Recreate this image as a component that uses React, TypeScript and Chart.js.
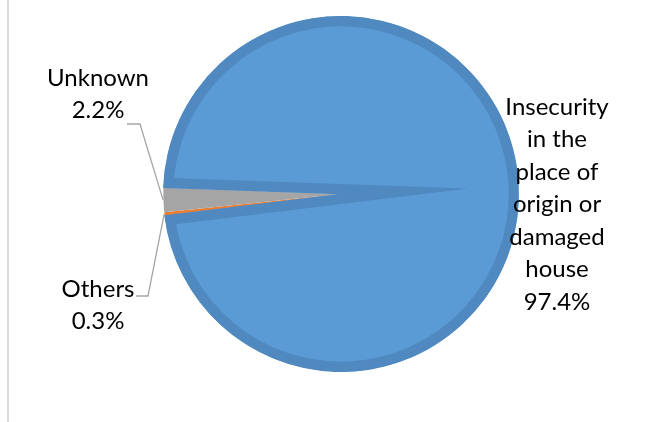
import React, { useEffect, useRef } from "react";
import { Chart, registerables } from "chart.js";

Chart.register(...registerables);

// Reasons for displacement
const categories = ["Others", "Unknown", "Insecurity in the place of origin or damaged house"];
const categoryLines = [["Others"], ["Unknown"], ["Insecurity", "in the", "place of", "origin or", "damaged", "house"]];
const shares = [0.3, 2.2, 97.4];
const fillColors = ["#ed7d31", "#a5a5a5", "#5b9bd5"];
const edgeColors = ["#ffffff", "#ffffff", "#4f89c0"];
const edgeWidths = [0, 0, 10];

// Label blocks: text centre, first line y, and leader elbow (null = no leader)
const labelBlocks = [
  { cx: 98, y0: 289, elbow: { x1: 136, x2: 148, y: 296 } },
  { cx: 98, y0: 78, elbow: { x1: 127, x2: 140, y: 124 } },
  { cx: 557, y0: 107, elbow: null },
];

const FONT = "24px Lato, 'Open Sans', sans-serif";
const LINE_H = 32.5;

const labelPlugin = {
  id: "sliceLabels",
  beforeDatasetsDraw(chart: any) {
    chart.ctx.miterLimit = 30;
  },
  afterDatasetsDraw(chart: any) {
    const ctx = chart.ctx as CanvasRenderingContext2D;
    const meta = chart.getDatasetMeta(0);
    ctx.save();
    ctx.font = FONT;
    ctx.fillStyle = "#000000";
    ctx.textAlign = "center";
    ctx.textBaseline = "middle";
    meta.data.forEach((arc: any, i: number) => {
      const block = labelBlocks[i];
      const lines = [...categoryLines[i], shares[i].toFixed(1) + "%"];
      lines.forEach((t, k) => ctx.fillText(t, block.cx, block.y0 + k * LINE_H));
      if (block.elbow) {
        const mid = (arc.startAngle + arc.endAngle) / 2;
        const px = arc.x + Math.cos(mid) * arc.outerRadius;
        const py = arc.y + Math.sin(mid) * arc.outerRadius;
        ctx.strokeStyle = "#a6a6a6";
        ctx.lineWidth = 1.3;
        ctx.beginPath();
        ctx.moveTo(block.elbow.x1, block.elbow.y);
        ctx.lineTo(block.elbow.x2, block.elbow.y);
        ctx.lineTo(px, py);
        ctx.stroke();
      }
    });
    ctx.restore();
  },
};

export default function App() {
  const canvasRef = useRef<HTMLCanvasElement | null>(null);

  useEffect(() => {
    if (!canvasRef.current) return;
    const chart = new Chart(canvasRef.current, {
      type: "pie",
      data: {
        labels: categories,
        datasets: [
          {
            data: shares,
            backgroundColor: fillColors,
            borderColor: edgeColors,
            borderWidth: edgeWidths,
            borderAlign: "inner",
            borderJoinStyle: "miter",
          } as any,
        ],
      },
      options: {
        animation: false,
        responsive: false,
        rotation: 263,
        layout: { padding: { left: 163, right: 152, top: 16, bottom: 50 } },
        plugins: {
          legend: { display: false },
          tooltip: { enabled: false },
        },
        events: [],
      },
      plugins: [labelPlugin],
    });
    return () => chart.destroy();
  }, []);

  return (
    <div style={{ position: "fixed", left: 0, top: 0, width: 671, height: 422, background: "#ffffff" }}>
      <div style={{ position: "absolute", left: 7, top: 0, width: 2, height: 422, background: "#d9d9d9" }} />
      <canvas ref={canvasRef} width={671} height={422} style={{ position: "absolute", left: 0, top: 0 }} />
    </div>
  );
}
